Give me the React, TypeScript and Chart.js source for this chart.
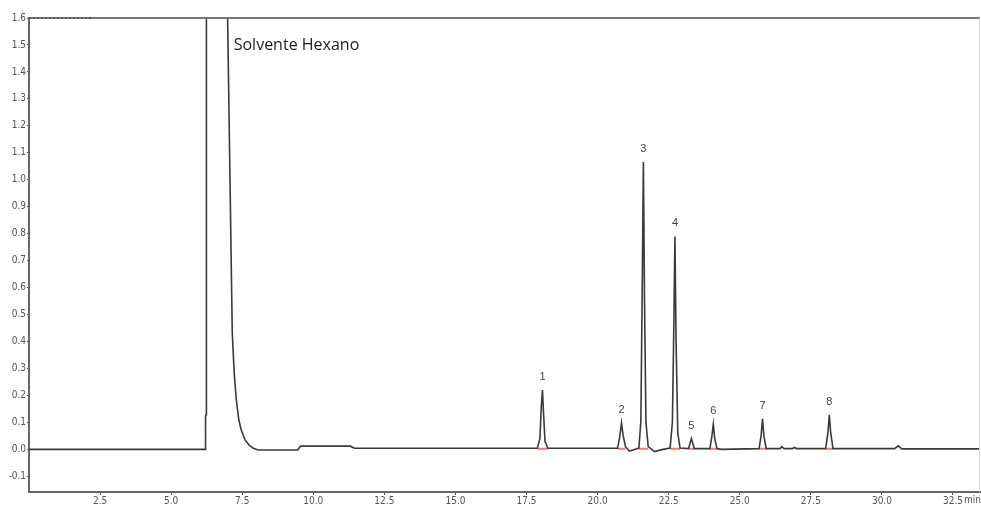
import React, { useEffect, useRef } from "react";
import { Chart, registerables } from "chart.js";

Chart.register(...registerables);

// Chromatogram trace (time in min, signal)
const times = [
  0, 6.2, 6.21, 6.23, 6.24, 6.6, 6.93, 7.15, 7.22, 7.29, 7.38, 7.46, 7.6, 7.75, 7.9, 8.05,
  9.45, 9.55, 11.3, 11.45,
  17.88, 17.97, 18.02, 18.06, 18.1, 18.15, 18.25,
  20.7, 20.77, 20.84, 20.9, 20.98, 21.12, 21.3,
  21.45, 21.52, 21.57, 21.61, 21.65, 21.7, 21.78, 22.0, 22.3,
  22.55, 22.63, 22.68, 22.72, 22.76, 22.82, 22.9,
  23.2, 23.3, 23.4,
  23.95, 24.02, 24.07, 24.12, 24.2, 24.35,
  25.68, 25.75, 25.8, 25.85, 25.93,
  26.42, 26.48, 26.56, 26.85, 26.92, 27.0,
  28.02, 28.1, 28.15, 28.2, 28.28,
  30.45, 30.57, 30.7, 33.45,
];
const signal = [
  0, 0, 0.12, 0.13, 3.0, 3.2, 2.0, 0.43, 0.28, 0.185, 0.11, 0.074, 0.035, 0.015, 0.004, -0.002,
  -0.002, 0.012, 0.012, 0.004,
  0.004, 0.04, 0.16, 0.22, 0.13, 0.03, 0.004,
  0.004, 0.04, 0.098, 0.05, 0.01, -0.006, 0.0,
  0.005, 0.1, 0.6, 1.066, 0.55, 0.1, 0.01, -0.008, 0.0,
  0.005, 0.1, 0.45, 0.79, 0.4, 0.06, 0.005,
  0.003, 0.04, 0.003,
  0.003, 0.05, 0.094, 0.04, 0.003, 0.0,
  0.003, 0.05, 0.113, 0.05, 0.003,
  0.003, 0.01, 0.003, 0.003, 0.007, 0.003,
  0.003, 0.06, 0.128, 0.06, 0.003,
  0.003, 0.013, 0.002, 0.002,
];

// Integrated peaks (labels above apex)
const peakLabels = ["1", "2", "3", "4", "5", "6", "7", "8"];
const peakTimes = [18.06, 20.84, 21.61, 22.72, 23.3, 24.07, 25.8, 28.15];
const peakHeights = [0.22, 0.098, 1.066, 0.79, 0.04, 0.094, 0.113, 0.128];
const peakStarts = [17.88, 20.7, 21.45, 22.55, 23.2, 23.95, 25.68, 28.02];
const peakEnds = [18.25, 20.98, 21.78, 22.9, 23.4, 24.2, 25.93, 28.28];

const xTicks = [2.5, 5, 7.5, 10, 12.5, 15, 17.5, 20, 22.5, 25, 27.5, 30, 32.5];
const yTicks = [-0.1, 0, 0.1, 0.2, 0.3, 0.4, 0.5, 0.6, 0.7, 0.8, 0.9, 1.0, 1.1, 1.2, 1.3, 1.4, 1.5, 1.6];

const solventText = "Solvente Hexano";
const solventPos = { x: 7.2, y: 1.5 };
const xUnit = "min";

const tickFont = { family: "'Liberation Sans Narrow', 'DejaVu Sans Condensed', 'Liberation Sans', Arial, sans-serif", size: 10 };

export default function App() {
  const ref = useRef<HTMLCanvasElement | null>(null);

  useEffect(() => {
    if (!ref.current) return;
    const traceData = times.map((t, i) => ({ x: t, y: signal[i] }));
    const redData: any[] = [];
    peakStarts.forEach((s, i) => {
      redData.push({ x: s, y: 0.002 });
      redData.push({ x: peakEnds[i], y: 0.002 });
      redData.push({ x: peakEnds[i], y: null });
    });

    const overlay = {
      id: "overlay",
      afterDatasetsDraw(chart: any) {
        const { ctx, chartArea, scales } = chart;
        const { left, right, top, bottom } = chartArea;
        const x = scales.x;
        const y = scales.y;
        ctx.save();
        // top frame
        ctx.strokeStyle = "#777";
        ctx.lineWidth = 2;
        ctx.beginPath();
        ctx.moveTo(left, top);
        ctx.lineTo(right, top);
        ctx.stroke();
        // faint right frame
        ctx.strokeStyle = "#ddd";
        ctx.lineWidth = 1;
        ctx.beginPath();
        ctx.moveTo(right - 0.5, top);
        ctx.lineTo(right - 0.5, bottom);
        ctx.stroke();
        // dotted segment top-left
        ctx.strokeStyle = "#333";
        ctx.setLineDash([2, 2]);
        ctx.beginPath();
        ctx.moveTo(left, top);
        ctx.lineTo(left + 64, top);
        ctx.stroke();
        ctx.setLineDash([]);
        // peak labels
        ctx.fillStyle = "#444";
        ctx.font = "11px 'Liberation Sans', Arial, sans-serif";
        ctx.textAlign = "center";
        ctx.textBaseline = "middle";
        peakLabels.forEach((lab, i) => {
          const px = x.getPixelForValue(peakTimes[i]);
          const py = y.getPixelForValue(peakHeights[i]);
          ctx.fillText(lab, px, py - 13);
        });
        // solvent label
        ctx.fillStyle = "#222";
        ctx.font = "16px 'Open Sans', 'Liberation Sans', sans-serif";
        ctx.textAlign = "left";
        ctx.fillText(solventText, x.getPixelForValue(solventPos.x), y.getPixelForValue(solventPos.y));
        // unit after last tick
        ctx.fillStyle = "#555";
        ctx.font = "10px " + tickFont.family;
        ctx.textAlign = "left";
        const lastX = x.getPixelForValue(xTicks[xTicks.length - 1]);
        ctx.fillText(xUnit, lastX + 11, bottom + 8);
        ctx.restore();
      },
    };

    const chart = new Chart(ref.current, {
      type: "line",
      data: {
        datasets: [
          {
            data: traceData,
            borderColor: "#3a3a3a",
            borderWidth: 1.6,
            pointRadius: 0,
            tension: 0,
            order: 1,
          },
          {
            data: redData,
            borderColor: "rgba(235,80,80,0.75)",
            borderWidth: 2,
            pointRadius: 0,
            spanGaps: false,
            order: 2,
          },
        ],
      },
      options: {
        responsive: false,
        animation: false,
        events: [],
        parsing: false as any,
        layout: { padding: { top: 18, right: 1, left: 0, bottom: 0 } },
        plugins: { legend: { display: false }, tooltip: { enabled: false }, title: { display: false } },
        scales: {
          x: {
            type: "linear",
            min: 0,
            max: 33.45,
            afterBuildTicks: (s: any) => {
              s.ticks = xTicks.map((v) => ({ value: v }));
            },
            afterFit: (s: any) => {
              s.height = 14;
            },
            ticks: {
              color: "#555",
              font: tickFont,
              padding: 0,
              maxRotation: 0,
              autoSkip: false,
              callback: (v: any) => Number(v).toFixed(1),
            },
            grid: { drawOnChartArea: false, drawTicks: true, tickLength: 3, color: "#555" },
            border: { display: true, color: "#666", width: 2 },
          },
          y: {
            type: "linear",
            min: -0.158,
            max: 1.6,
            afterBuildTicks: (s: any) => {
              s.ticks = yTicks.map((v) => ({ value: v }));
            },
            afterFit: (s: any) => {
              s.width = 29;
            },
            ticks: {
              color: "#555",
              font: tickFont,
              padding: 1,
              autoSkip: false,
              callback: (v: any) => Number(v).toFixed(1),
            },
            grid: { drawOnChartArea: false, drawTicks: true, tickLength: 2, color: "#555" },
            border: { display: true, color: "#666", width: 2 },
          },
        },
      },
      plugins: [overlay],
    });
    return () => chart.destroy();
  }, []);

  return (
    <div style={{ position: "absolute", left: 0, top: 0, width: 981, height: 506, background: "#fff" }}>
      <canvas ref={ref} width={981} height={506} style={{ display: "block" }} />
    </div>
  );
}
